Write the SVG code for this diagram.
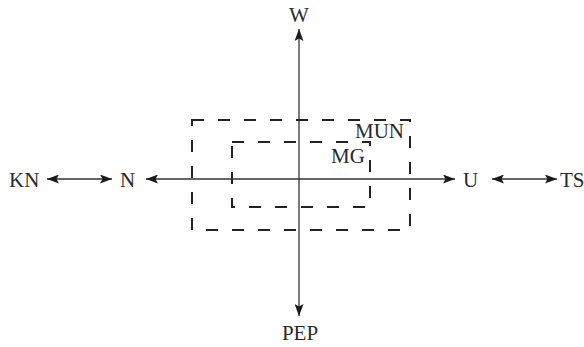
<svg xmlns="http://www.w3.org/2000/svg" width="584" height="347" viewBox="0 0 584 347">
<style>
  .lbl { font-family: "Liberation Serif", "Times New Roman", serif; font-size: 21px; fill: #2a2a2a; }
  .halo { stroke: #ffffff; stroke-width: 3; paint-order: stroke; stroke-linejoin: round; }
  .axis { stroke: #333333; stroke-width: 1.5; fill: none; }
  .vaxis { stroke: #7a7a7a; stroke-width: 2; fill: none; }
  .box { stroke: #222222; stroke-width: 2; fill: none; stroke-dasharray: 12 14; }
</style>
<defs>
  <marker id="ah" markerUnits="userSpaceOnUse" markerWidth="12" markerHeight="9" refX="12" refY="4.5" orient="auto-start-reverse">
    <path d="M0,0 L12,4.5 L0,9 L2.5,4.5 z" fill="#1a1a1a"/>
  </marker>
</defs>
<rect width="584" height="347" fill="#ffffff"/>
<g id="connectors">
  <line class="vaxis" x1="299" y1="316" x2="299" y2="29" marker-start="url(#ah)" marker-end="url(#ah)"/>
  <line class="axis" x1="146" y1="179" x2="455" y2="179" marker-start="url(#ah)" marker-end="url(#ah)"/>
  <line class="axis" x1="47" y1="179" x2="112" y2="179" marker-start="url(#ah)" marker-end="url(#ah)"/>
  <line class="axis" x1="492" y1="179" x2="557" y2="179" marker-start="url(#ah)" marker-end="url(#ah)"/>
</g>
<g id="MUN-box">
  <rect class="box" x="192" y="120" width="218" height="110"/>
</g>
<g id="MG-box">
  <rect class="box" x="232" y="142" width="138" height="65"/>
</g>
<g id="MUN"><text class="lbl halo" x="355" y="138">MUN</text></g>
<g id="MG"><text class="lbl halo" x="331" y="163">MG</text></g>
<g id="W"><text class="lbl" x="299" y="22" text-anchor="middle">W</text></g>
<g id="PEP"><text class="lbl" x="300" y="340" text-anchor="middle">PEP</text></g>
<g id="KN"><text class="lbl" x="9" y="187">KN</text></g>
<g id="N"><text class="lbl" x="120" y="187">N</text></g>
<g id="U"><text class="lbl" x="463" y="187">U</text></g>
<g id="TS"><text class="lbl" x="560" y="187">TS</text></g>
</svg>
